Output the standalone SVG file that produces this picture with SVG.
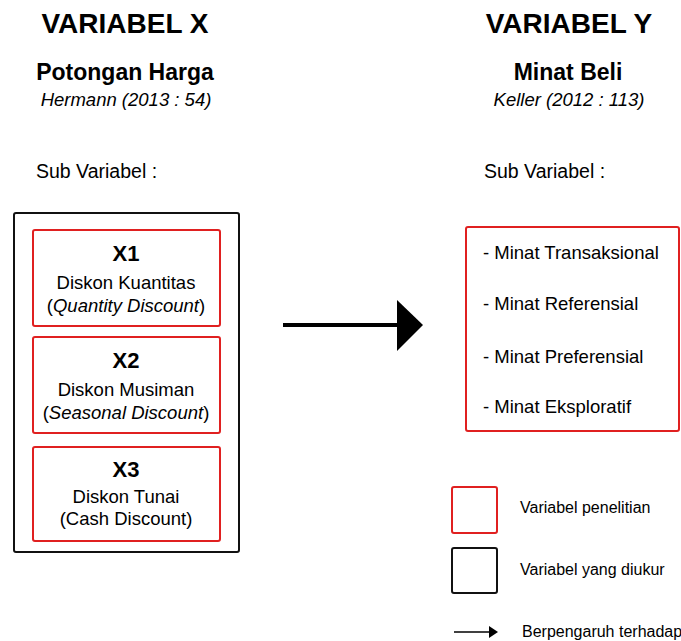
<svg xmlns="http://www.w3.org/2000/svg" width="681" height="641" viewBox="0 0 681 641">
<style>
text{font-family:"Liberation Sans",Arial,sans-serif;fill:#000}
.h1{font-size:28px;font-weight:bold;text-anchor:middle}
.h2{font-size:23px;font-weight:bold;text-anchor:middle}
.ref{font-size:18.5px;font-style:italic;text-anchor:middle}
.sub{font-size:19.5px}
.xl{font-size:22px;font-weight:bold;text-anchor:middle}
.t{font-size:18.5px;text-anchor:middle}
.it{font-style:italic}
.m{font-size:18.5px}
.lg{font-size:16px}
.red{fill:#fff;stroke:#e02020;stroke-width:2}
.blk{fill:none;stroke:#111;stroke-width:2}
</style>
<rect width="681" height="641" fill="#fff"/>
<g id="headings">
<text class="h1" x="125" y="33">VARIABEL X</text>
<text class="h2" x="125" y="80">Potongan Harga</text>
<text class="ref" x="126" y="106">Hermann (2013 : 54)</text>
<text class="sub" x="36" y="178">Sub Variabel :</text>
<text class="h1" x="569" y="33">VARIABEL Y</text>
<text class="h2" x="568" y="80">Minat Beli</text>
<text class="ref" x="569" y="106">Keller (2012 : 113)</text>
<text class="sub" x="484" y="178">Sub Variabel :</text>
</g>
<g id="variabel-x">
<rect class="blk" x="14" y="213" width="225" height="339" rx="2"/>
</g>
<g id="x1">
<rect class="red" x="33" y="230" width="187" height="96" rx="2"/>
<text class="xl" x="126" y="261">X1</text>
<text class="t" x="126" y="289">Diskon Kuantitas</text>
<text class="t" x="126" y="312">(<tspan class="it">Quantity Discount</tspan>)</text>
</g>
<g id="x2">
<rect class="red" x="33" y="337" width="187" height="96" rx="2"/>
<text class="xl" x="126" y="368">X2</text>
<text class="t" x="126" y="396">Diskon Musiman</text>
<text class="t" x="126" y="419">(<tspan class="it">Seasonal Discount</tspan>)</text>
</g>
<g id="x3">
<rect class="red" x="33" y="447" width="187" height="94" rx="2"/>
<text class="xl" x="126" y="477">X3</text>
<text class="t" x="126" y="503">Diskon Tunai</text>
<text class="t" x="126" y="525">(Cash Discount)</text>
</g>
<g id="variabel-y">
<rect class="red" x="466" y="227" width="213" height="204" rx="2"/>
<text class="m" x="483" y="259">- Minat Transaksional</text>
<text class="m" x="483" y="310">- Minat Referensial</text>
<text class="m" x="483" y="363">- Minat Preferensial</text>
<text class="m" x="483" y="413">- Minat Eksploratif</text>
</g>
<g id="connectors">
<line x1="283" y1="325" x2="398" y2="325" stroke="#000" stroke-width="4"/>
<polygon points="397,300 423,325 397,351" fill="#000"/>
</g>
<g id="legend">
<rect class="red" x="452" y="487" width="45" height="46" rx="2"/>
<text class="lg" x="520" y="513">Variabel penelitian</text>
<rect class="blk" x="452" y="548" width="45" height="45" rx="2"/>
<text class="lg" x="520" y="575">Variabel yang diukur</text>
<line x1="454" y1="632" x2="491" y2="632" stroke="#000" stroke-width="1.5"/>
<polygon points="489,626 498,632 489,638" fill="#000"/>
<text class="lg" x="522" y="637">Berpengaruh terhadap</text>
</g>
</svg>
